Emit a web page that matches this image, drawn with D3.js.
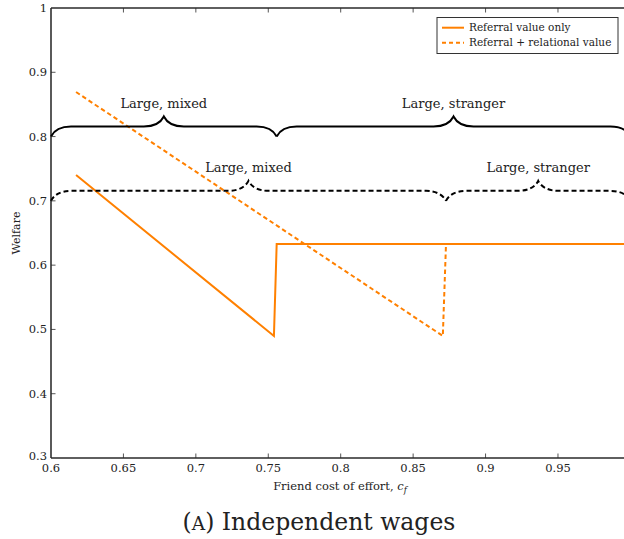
<!DOCTYPE html>
<html><head><meta charset="utf-8">
<script src="https://cdn.jsdelivr.net/npm/d3@7"></script>
<style>
html,body{margin:0;padding:0;background:#fff;}
svg{display:block;}
text{font-family:"DejaVu Serif",serif;fill:#222;}
</style></head>
<body>
<svg id="chart" width="624" height="539"></svg>
<script>
// ---- data ----
const xTicks = [0.6, 0.65, 0.7, 0.75, 0.8, 0.85, 0.9, 0.95];
const xTickLabels = ["0.6", "0.65", "0.7", "0.75", "0.8", "0.85", "0.9", "0.95"];
const yTicks = [0.3, 0.4, 0.5, 0.6, 0.7, 0.8, 0.9, 1];
const yTickLabels = ["0.3", "0.4", "0.5", "0.6", "0.7", "0.8", "0.9", "1"];

const seriesNames = ["Referral value only", "Referral + relational value"];
const referralX = [0.6173, 0.7539, 0.7558, 1.0];
const referralY = [0.7402, 0.4898, 0.6329, 0.6329];
const relationalX = [0.6173, 0.8705, 0.8727, 1.0];
const relationalY = [0.8693, 0.4898, 0.6329, 0.6329];

// brace annotations
const braceStart = [0.6, 0.7558, 0.6, 0.8727];
const braceEnd   = [0.7558, 1.0, 0.8727, 1.0];
const braceLevel = [0.8, 0.8, 0.7, 0.7];
const braceLabel = ["Large, mixed", "Large, stranger", "Large, mixed", "Large, stranger"];
const braceDashed = [false, false, true, true];

// ---- layout ----
const svg = d3.select("#chart");
const x = d3.scaleLinear().domain([0.6, 1.0]).range([51, 630.4]);
const y = d3.scaleLinear().domain([0.3, 1]).range([458, 8]);
const orange = "#ff8000";
const axisColor = "#2a2a2a";

// ---- lines ----
const line = d3.line().x(d => x(d[0])).y(d => y(d[1]));
const refPts = referralX.map((v, i) => [v, referralY[i]]);
const relPts = relationalX.map((v, i) => [v, relationalY[i]]);

svg.append("path").attr("d", line(refPts)).attr("fill", "none")
  .attr("stroke", orange).attr("stroke-width", 2).attr("stroke-linejoin", "miter");
svg.append("path").attr("d", line(relPts)).attr("fill", "none")
  .attr("stroke", orange).attr("stroke-width", 2).attr("stroke-dasharray", "4.5,3");

// ---- braces ----
function bracePath(x0, x1, yb, a) {
  const m = (x0 + x1) / 2, Y = v => yb - v;
  return `M${x0},${yb} C${x0+.15*a},${Y(.3*a)} ${x0+.5*a},${Y(.5*a)} ${x0+a},${Y(.5*a)}` +
    ` L${m-a},${Y(.5*a)} C${m-.5*a},${Y(.5*a)} ${m-.15*a},${Y(.7*a)} ${m},${Y(a)}` +
    ` C${m+.15*a},${Y(.7*a)} ${m+.5*a},${Y(.5*a)} ${m+a},${Y(.5*a)}` +
    ` L${x1-a},${Y(.5*a)} C${x1-.5*a},${Y(.5*a)} ${x1-.15*a},${Y(.3*a)} ${x1},${yb}`;
}
const amp = 20;
braceStart.forEach((s, i) => {
  const x0 = x(s), x1 = x(braceEnd[i]), yb = y(braceLevel[i]);
  svg.append("path").attr("d", bracePath(x0, x1, yb, amp))
    .attr("fill", "none").attr("stroke", "#000").attr("stroke-width", 2)
    .attr("stroke-dasharray", braceDashed[i] ? "5,3" : null);
  svg.append("text").attr("x", (x0 + x1) / 2).attr("y", yb - amp - 8.5)
    .attr("text-anchor", "middle").attr("font-size", 13).text(braceLabel[i]);
});

// ---- axes ----
const ax = svg.append("g");
ax.append("line").attr("x1", x(0.6)).attr("x2", x(0.6)).attr("y1", y(0.3)).attr("y2", y(1))
  .attr("stroke", "#000").attr("stroke-width", 1.3);
ax.append("line").attr("x1", x(0.6)).attr("x2", x(1.0)).attr("y1", y(0.3)).attr("y2", y(0.3))
  .attr("stroke", axisColor).attr("stroke-width", 1.3);
ax.append("line").attr("x1", x(0.6)).attr("x2", x(1.0)).attr("y1", y(1)).attr("y2", y(1))
  .attr("stroke", axisColor).attr("stroke-width", 1.3);
ax.append("line").attr("x1", x(1.0)).attr("x2", x(1.0)).attr("y1", y(0.3)).attr("y2", y(1))
  .attr("stroke", axisColor).attr("stroke-width", 1.3);

xTicks.forEach((t, i) => {
  if (i > 0) {
    ax.append("line").attr("x1", x(t)).attr("x2", x(t)).attr("y1", y(0.3)).attr("y2", y(0.3) - 4.5)
      .attr("stroke", axisColor).attr("stroke-width", 0.8);
    ax.append("line").attr("x1", x(t)).attr("x2", x(t)).attr("y1", y(1)).attr("y2", y(1) + 4.5)
      .attr("stroke", axisColor).attr("stroke-width", 0.8);
  }
  ax.append("text").attr("x", x(t)).attr("y", 472).attr("text-anchor", "middle")
    .attr("font-size", 11.5).text(xTickLabels[i]);
});
yTicks.forEach((t, i) => {
  if (i > 0 && i < yTicks.length - 1) {
    ax.append("line").attr("x1", x(0.6)).attr("x2", x(0.6) + 4.5).attr("y1", y(t)).attr("y2", y(t))
      .attr("stroke", axisColor).attr("stroke-width", 0.8);
  }
  ax.append("text").attr("x", 47).attr("y", i === 0 ? y(t) - 2 : y(t)).attr("dy", "0.35em").attr("text-anchor", "end")
    .attr("font-size", 11.5).text(yTickLabels[i]);
});

// axis labels
const xl = svg.append("text").attr("x", 340).attr("y", 490).attr("text-anchor", "middle").attr("font-size", 11.5);
xl.append("tspan").text("Friend cost of effort, ");
xl.append("tspan").attr("font-style", "italic").text("c");
xl.append("tspan").attr("font-style", "italic").attr("font-size", 8.5).attr("dy", 3).text("f");

svg.append("text").attr("transform", `translate(20,${(y(0.3)+y(1))/2}) rotate(-90)`)
  .attr("text-anchor", "middle").attr("font-size", 11).text("Welfare");

// caption
const cap = svg.append("text").attr("x", 319).attr("y", 530).attr("text-anchor", "middle").attr("font-size", 23.5);
cap.append("tspan").text("(");
cap.append("tspan").attr("font-size", 18.5).text("A");
cap.append("tspan").text(") Independent wages");

// ---- legend ----
const lg = svg.append("g");
lg.append("rect").attr("x", 437).attr("y", 17.5).attr("width", 181).attr("height", 36)
  .attr("fill", "#fff").attr("stroke", "#333").attr("stroke-width", 1);
seriesNames.forEach((n, i) => {
  const yy = 27.7 + i * 15;
  lg.append("line").attr("x1", 442).attr("x2", 464).attr("y1", yy).attr("y2", yy)
    .attr("stroke", orange).attr("stroke-width", 2)
    .attr("stroke-dasharray", i === 1 ? "4,3" : null);
  lg.append("text").attr("x", 469).attr("y", yy).attr("dy", "0.35em")
    .attr("font-size", 10.5).text(n);
});
</script>
</body></html>
